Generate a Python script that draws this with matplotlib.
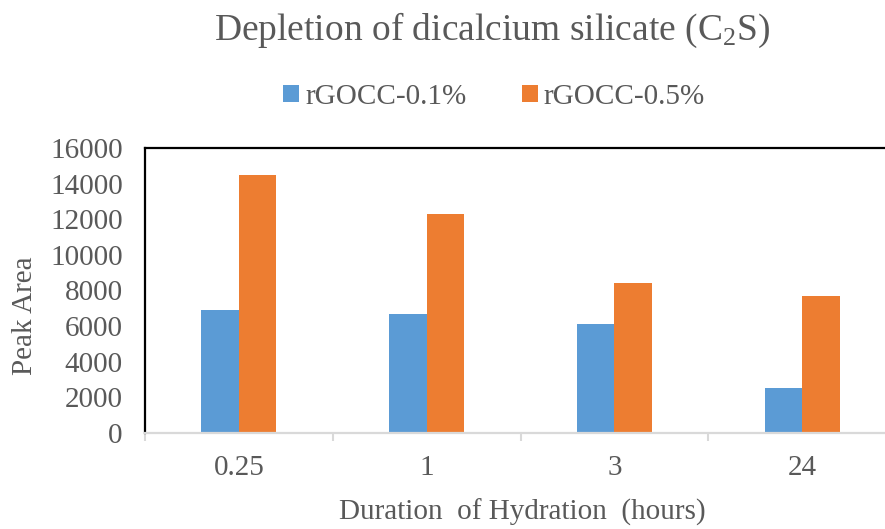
import numpy as np
import matplotlib
matplotlib.use("Agg")
import matplotlib.pyplot as plt

# hydration times and peak areas for the two rGOCC dosages
hours = ["0.25", "1", "3", "24"]
series_names = ["rGOCC-0.1%", "rGOCC-0.5%"]
area_01 = [6900, 6700, 6100, 2550]
area_05 = [14500, 12300, 8400, 7700]

plt.rcParams['font.family'] = ['Liberation Serif', 'DejaVu Serif']
plt.rcParams['mathtext.fontset'] = 'custom'
plt.rcParams['mathtext.rm'] = 'Liberation Serif'
txt = '#595959'
blue = '#5b9bd5'
orange = '#ed7d31'

fig = plt.figure(figsize=(8.85, 5.29), dpi=100)
ax = fig.add_axes([145/885, 96/529, 751/885, 285/529])

x = np.arange(len(hours))
w = 0.2
ax.bar(x - w/2, area_01, w, color=blue, label=series_names[0])
ax.bar(x + w/2, area_05, w, color=orange, label=series_names[1])

ax.set_xlim(-0.5, len(hours) - 0.5)
ax.set_ylim(0, 16000)
ax.set_yticks(np.arange(0, 16001, 2000))
ax.set_xticks(x)
ax.set_xticklabels(hours)
ax.set_xticks(np.arange(-0.5, len(hours)), minor=True)

ax.tick_params(axis='y', length=0, pad=16, labelsize=21, labelcolor=txt)
ax.tick_params(axis='x', which='major', length=0, pad=16, labelsize=21, labelcolor=txt)
ax.tick_params(axis='x', which='minor', length=6, width=1.5, color='#d9d9d9')

for s in ['left', 'top', 'right']:
    ax.spines[s].set_color('black')
    ax.spines[s].set_linewidth(1.6)
ax.spines['bottom'].set_color('#d9d9d9')
ax.spines['bottom'].set_linewidth(1.6)

# axis titles
fig.text(25/885, 1 - 316/529, "Peak Area", rotation=90, ha='center', va='center',
         fontsize=21, color=txt)
fig.text(522/885, 1 - 512/529, "Duration  of Hydration  (hours)", ha='center', va='center',
         fontsize=21, color=txt)

fig.text(492/885, 1 - 30/529, r"Depletion of dicalcium silicate (C$\mathregular{_2}$S)",
         ha='center', va='center', fontsize=27, color=txt)

# legend placed above the plot area
fig.legend(loc='center', bbox_to_anchor=(494/885, 1 - 97/529), ncol=2, frameon=False,
           fontsize=21, labelcolor=txt, handlelength=0.55, handleheight=0.55,
           handletextpad=0.2, columnspacing=1.9)

fig.savefig("out.png", dpi=100)
